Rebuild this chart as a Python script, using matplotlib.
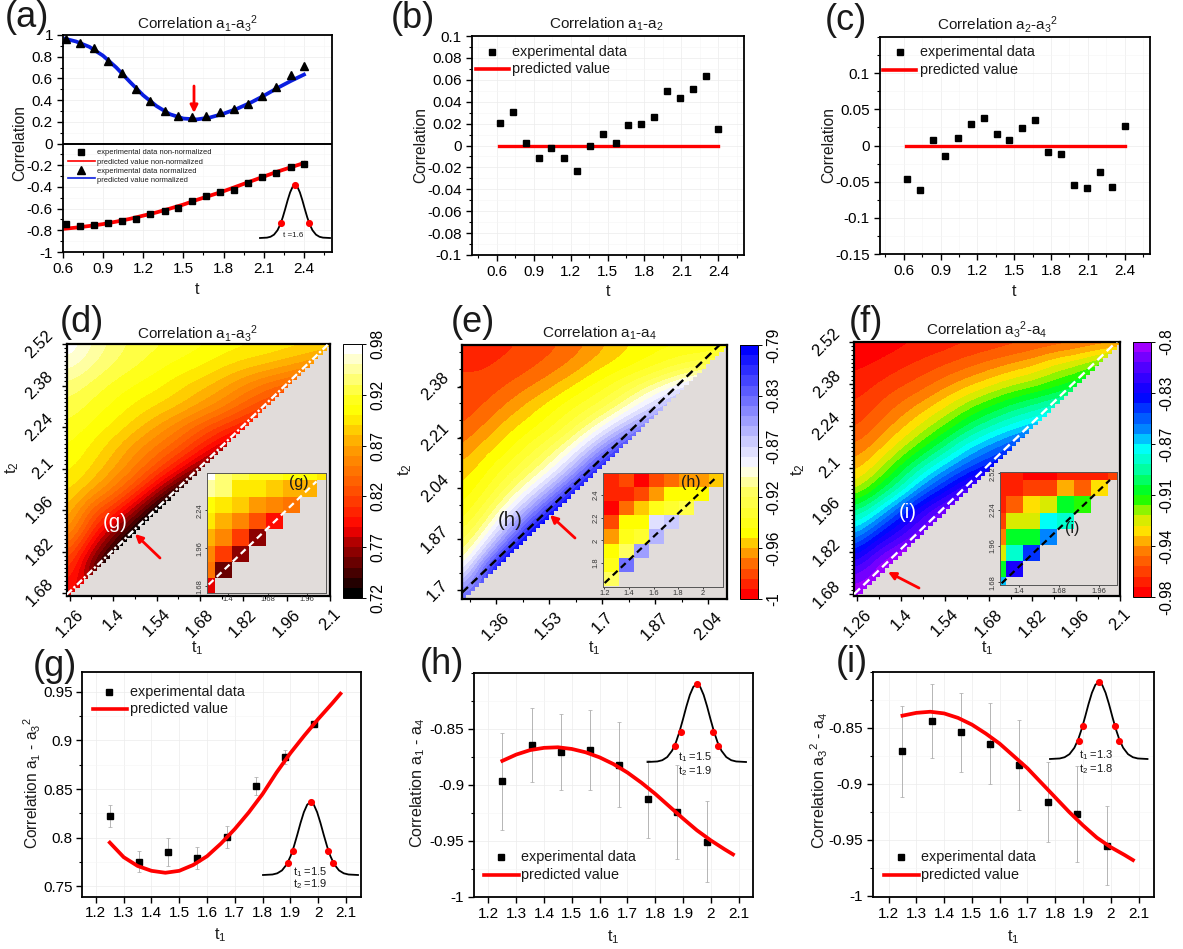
import matplotlib
matplotlib.use('Agg')
import matplotlib.pyplot as plt
from matplotlib.colors import LinearSegmentedColormap
from matplotlib.cm import ScalarMappable
from matplotlib.colors import Normalize
from matplotlib.patches import FancyArrowPatch
from matplotlib.ticker import MultipleLocator
import numpy as np

plt.rcParams['font.family'] = ['Liberation Sans', 'DejaVu Sans']
plt.rcParams['mathtext.default'] = 'regular'
plt.rcParams['axes.unicode_minus'] = False
plt.rcParams['axes.linewidth'] = 1.3

W, H = 1183, 949
RED = '#ff0000'
GRAY = '#e1dcda'

# ---- top row data ----
t_exp = [0.625, 0.73, 0.835, 0.94, 1.045, 1.15, 1.255, 1.36, 1.46, 1.565, 1.67, 1.775, 1.88, 1.985, 2.09, 2.195, 2.3, 2.4]
a_norm = [0.96, 0.93, 0.88, 0.763, 0.646, 0.505, 0.39, 0.30, 0.252, 0.246, 0.252, 0.292, 0.314, 0.363, 0.437, 0.517, 0.634, 0.71]
a_raw = [-0.745, -0.76, -0.754, -0.732, -0.714, -0.692, -0.652, -0.622, -0.597, -0.526, -0.486, -0.443, -0.425, -0.36, -0.31, -0.268, -0.218, -0.188]
a_blue_t = [0.62, 0.7, 0.8, 0.9, 1.0, 1.1, 1.2, 1.3, 1.4, 1.5, 1.6, 1.7, 1.8, 1.9, 2.0, 2.1, 2.2, 2.3, 2.4]
a_blue = [0.965, 0.94, 0.89, 0.81, 0.70, 0.57, 0.445, 0.345, 0.27, 0.23, 0.222, 0.24, 0.275, 0.32, 0.375, 0.44, 0.51, 0.575, 0.635]
a_red_t = [0.62, 0.7, 0.8, 0.9, 1.0, 1.1, 1.2, 1.3, 1.4, 1.5, 1.6, 1.7, 1.8, 1.9, 2.0, 2.1, 2.2, 2.3, 2.4]
a_red = [-0.785, -0.775, -0.76, -0.743, -0.72, -0.695, -0.665, -0.635, -0.60, -0.563, -0.52, -0.48, -0.44, -0.395, -0.35, -0.305, -0.26, -0.22, -0.18]
b_exp = [0.021, 0.0304, 0.0024, -0.011, -0.0024, -0.011, -0.0231, -0.0006, 0.0107, 0.0027, 0.0186, 0.0198, 0.0262, 0.0502, 0.0438, 0.052, 0.0633, 0.0155]
c_exp = [-0.047, -0.0613, 0.0074, -0.0143, 0.0101, 0.0304, 0.0382, 0.0157, 0.0074, 0.024, 0.0355, -0.0083, -0.0124, -0.0544, -0.0594, -0.0364, -0.058, 0.0276]
zero_t = [0.62, 2.4]
zero_val = [0, 0]

# ---- bottom row data ----
t1_exp = [1.25, 1.355, 1.46, 1.565, 1.67, 1.775, 1.88, 1.985]
g_exp = [0.8222, 0.7753, 0.785, 0.779, 0.8006, 0.853, 0.883, 0.917]
g_err = [0.011, 0.011, 0.0145, 0.011, 0.011, 0.009, 0.007, 0.003]
h_exp = [-0.897, -0.8649, -0.8706, -0.869, -0.882, -0.9128, -0.924, -0.9506]
h_err = [0.043, 0.033, 0.034, 0.036, 0.038, 0.035, 0.042, 0.036]
i_exp = [-0.871, -0.8438, -0.854, -0.864, -0.883, -0.916, -0.927, -0.955]
i_err = [0.041, 0.033, 0.035, 0.036, 0.04, 0.036, 0.043, 0.035]
t1_fit = [1.25, 1.3, 1.35, 1.4, 1.45, 1.5, 1.55, 1.6, 1.65, 1.7, 1.75, 1.8, 1.85, 1.9, 1.95, 2.0, 2.05, 2.08]
g_fit = [0.795, 0.780, 0.771, 0.766, 0.764, 0.766, 0.772, 0.781, 0.794, 0.809, 0.826, 0.845, 0.867, 0.887, 0.905, 0.922, 0.938, 0.948]
h_fit = [-0.8786, -0.873, -0.869, -0.867, -0.8665, -0.868, -0.871, -0.8755, -0.8815, -0.889, -0.898, -0.908, -0.919, -0.93, -0.9405, -0.9495, -0.9575, -0.962]
i_fit = [-0.839, -0.8365, -0.8355, -0.837, -0.841, -0.847, -0.855, -0.864, -0.875, -0.886, -0.899, -0.912, -0.925, -0.937, -0.948, -0.9565, -0.9635, -0.968]

# pulse outline (offset from centre, relative height)
pulse_x = [-1.0, -0.8, -0.7, -0.6, -0.5, -0.42, -0.35, -0.28, -0.21, -0.14, -0.07, 0.0,
           0.07, 0.14, 0.21, 0.28, 0.35, 0.42, 0.5, 0.6, 0.7, 0.8, 1.0]
pulse_y = [0.0, 0.007, 0.023, 0.063, 0.146, 0.257, 0.39, 0.547, 0.713, 0.86, 0.963, 1.0,
           0.963, 0.86, 0.713, 0.547, 0.39, 0.257, 0.146, 0.063, 0.023, 0.007, 0.0]
dots_a_x, dots_a_y = [-0.39, 0.0, 0.39], [0.28, 1.0, 0.28]
dots_g_x, dots_g_y = [-0.47, -0.366, 0.0, 0.366, 0.47], [0.17, 0.33, 1.0, 0.33, 0.17]
dots_h_x, dots_h_y = [-0.44, -0.325, 0.0, 0.325, 0.44], [0.21, 0.386, 1.0, 0.386, 0.21]
dots_i_x, dots_i_y = [-0.41, -0.33, 0.0, 0.33, 0.41], [0.24, 0.43, 1.0, 0.43, 0.24]

# ---- heat maps: values read along rows, top row (t2 = 2.52) first, each row stops at the diagonal ----
rows_d = [[0.98, 0.96, 0.945, 0.935, 0.93, 0.925, 0.92, 0.915, 0.91, 0.907, 0.903, 0.90, 0.895],
          [0.965, 0.95, 0.938, 0.93, 0.922, 0.915, 0.91, 0.90, 0.893, 0.888, 0.88, 0.87],
          [0.945, 0.935, 0.925, 0.917, 0.91, 0.90, 0.89, 0.88, 0.865, 0.85, 0.84],
          [0.935, 0.925, 0.915, 0.905, 0.897, 0.888, 0.875, 0.86, 0.84, 0.825],
          [0.925, 0.915, 0.905, 0.892, 0.875, 0.858, 0.838, 0.82, 0.805],
          [0.917, 0.905, 0.89, 0.87, 0.853, 0.835, 0.81, 0.785],
          [0.91, 0.897, 0.878, 0.855, 0.83, 0.80, 0.765],
          [0.90, 0.88, 0.855, 0.825, 0.785, 0.74],
          [0.885, 0.84, 0.815, 0.775, 0.725],
          [0.87, 0.815, 0.77, 0.725],
          [0.835, 0.78, 0.735],
          [0.815, 0.755],
          [0.79]]
rows_e = [[-0.985, -0.985, -0.985, -0.982, -0.978, -0.972, -0.965, -0.955, -0.948, -0.945, -0.943, -0.942, -0.94],
          [-0.985, -0.985, -0.982, -0.978, -0.972, -0.965, -0.955, -0.948, -0.943, -0.935, -0.925, -0.92],
          [-0.98, -0.98, -0.975, -0.968, -0.96, -0.95, -0.94, -0.93, -0.915, -0.90, -0.885],
          [-0.98, -0.975, -0.965, -0.955, -0.945, -0.935, -0.925, -0.91, -0.89, -0.87],
          [-0.975, -0.965, -0.953, -0.945, -0.935, -0.92, -0.90, -0.875, -0.85],
          [-0.965, -0.953, -0.945, -0.93, -0.915, -0.895, -0.865, -0.83],
          [-0.955, -0.945, -0.93, -0.915, -0.895, -0.865, -0.82],
          [-0.948, -0.935, -0.915, -0.89, -0.86, -0.815],
          [-0.94, -0.92, -0.89, -0.855, -0.81],
          [-0.925, -0.90, -0.86, -0.81],
          [-0.91, -0.87, -0.815],
          [-0.885, -0.82],
          [-0.83]]
rows_f = [[-0.98, -0.978, -0.975, -0.972, -0.97, -0.967, -0.965, -0.962, -0.96, -0.958, -0.955, -0.952, -0.95],
          [-0.975, -0.972, -0.968, -0.964, -0.96, -0.955, -0.95, -0.945, -0.94, -0.93, -0.925, -0.915],
          [-0.97, -0.965, -0.96, -0.955, -0.947, -0.94, -0.933, -0.925, -0.92, -0.913, -0.905],
          [-0.965, -0.958, -0.95, -0.942, -0.932, -0.92, -0.91, -0.90, -0.893, -0.885],
          [-0.96, -0.95, -0.94, -0.927, -0.915, -0.90, -0.888, -0.878, -0.87],
          [-0.95, -0.94, -0.925, -0.91, -0.893, -0.875, -0.862, -0.85],
          [-0.94, -0.925, -0.905, -0.885, -0.868, -0.852, -0.84],
          [-0.925, -0.905, -0.885, -0.86, -0.84, -0.82],
          [-0.895, -0.875, -0.85, -0.825, -0.81],
          [-0.87, -0.845, -0.825, -0.81],
          [-0.84, -0.815, -0.805],
          [-0.815, -0.80],
          [-0.80]]

n = np.nan
inset_d = [[0.98, 0.945, 0.93, 0.925, 0.92, 0.915, 0.91, 0.905],
           [0.95, 0.94, 0.905, 0.90, 0.89, 0.885, 0.88, n],
           [0.915, 0.905, 0.89, 0.875, 0.86, 0.85, n, n],
           [0.90, 0.885, 0.865, 0.83, 0.80, n, n, n],
           [0.885, 0.86, 0.82, 0.77, n, n, n, n],
           [0.865, 0.815, 0.765, n, n, n, n, n],
           [0.85, 0.76, n, n, n, n, n, n],
           [0.79, n, n, n, n, n, n, n]]
inset_e = [[-0.985, -0.98, -0.995, -0.98, -0.97, -0.965, -0.965, -0.95],
           [-0.985, -0.985, -0.975, -0.965, -0.945, -0.945, -0.945, n],
           [-0.995, -0.97, -0.95, -0.94, -0.925, -0.92, n, n],
           [-0.98, -0.945, -0.945, -0.875, -0.87, n, n, n],
           [-0.965, -0.935, -0.925, -0.86, n, n, n, n],
           [-0.945, -0.915, -0.85, n, n, n, n, n],
           [-0.94, -0.84, n, n, n, n, n, n],
           [-0.91, n, n, n, n, n, n, n]]
inset_f = [[-0.97, -0.97, -0.98, -0.98, -0.97, -0.97, -0.97, -0.96],
           [-0.97, -0.97, -0.965, -0.96, -0.94, -0.955, -0.935, n],
           [-0.97, -0.955, -0.935, -0.925, -0.905, -0.915, n, n],
           [-0.965, -0.925, -0.925, -0.875, -0.885, n, n, n],
           [-0.95, -0.905, -0.905, -0.86, n, n, n, n],
           [-0.925, -0.88, -0.85, n, n, n, n, n],
           [-0.905, -0.83, n, n, n, n, n, n],
           [-0.865, n, n, n, n, n, n, n]]

cmap_d = LinearSegmentedColormap.from_list('d', [(0, '#000000'), (0.2, '#a80000'), (0.27, '#ff0000'), (0.4, '#ff4800'),
                                                 (0.6, '#ffa000'), (0.74, '#ffff00'), (0.8, '#ffff20'), (0.93, '#ffffb0'), (1, '#ffffff')], N=25)
cmap_e = LinearSegmentedColormap.from_list('e', [(0, '#ff0000'), (0.13, '#ff7000'), (0.2, '#ffc000'), (0.25, '#ffff00'), (0.42, '#ffff60'),
                                                 (0.52, '#ffffff'), (0.6, '#d8d8ff'), (0.75, '#8888ff'), (1, '#0000ff')], N=25)
cmap_f = LinearSegmentedColormap.from_list('f', [(0, '#ff0000'), (0.17, '#ff8000'), (0.25, '#ffe000'), (0.31, '#c8f000'), (0.39, '#00ff00'),
                                                 (0.51, '#00ffb0'), (0.59, '#00ffff'), (0.655, '#0090ff'), (0.8, '#0000ff'), (0.94, '#6000ff'), (1, '#a000ff')], N=25)


def px_axes(x0, y0, x1, y1, **kw):
    return fig.add_axes([x0 / W, 1 - y1 / H, (x1 - x0) / W, (y1 - y0) / H], **kw)


def pad_rows(rows):
    # the part under the diagonal is covered in gray, it only keeps the slope for the smoothing
    out = []
    for row in rows:
        row = list(row)
        step = row[-1] - row[-2] if len(row) > 1 else 0.0
        while len(row) < len(rows):
            row.append(row[-1] + step)
        out.append(row)
    return out


def style_line_ax(ax, xlim, ylim, xt, xl, yt, yl, xminor, yminor, fs=11):
    ax.set_xlim(xlim)
    ax.set_ylim(ylim)
    ax.set_xticks(xt, xl, fontsize=fs)
    ax.set_yticks(yt, yl, fontsize=fs)
    if xminor:
        ax.xaxis.set_minor_locator(MultipleLocator(xminor))
    ax.yaxis.set_minor_locator(MultipleLocator(yminor))
    ax.tick_params(which='major', length=4, width=1.0, pad=3)
    ax.tick_params(which='minor', length=2.2, width=0.8)
    ax.grid(which='major', color='#ececec', lw=0.5)
    ax.grid(which='minor', color='#f5f5f5', lw=0.4)
    ax.set_axisbelow(True)


def draw_pulse(x0, y0, x1, y1, dx, dy):
    p = px_axes(x0, y0, x1, y1)
    p.axis('off')
    p.patch.set_alpha(0)
    p.set_xlim(-1, 1)
    p.set_ylim(0, 1)
    p.plot(pulse_x, pulse_y, color='black', lw=1.3, clip_on=False)
    p.plot(dx, dy, 'o', color=RED, ms=4.1, clip_on=False)


def draw_heat(ax_box, rows, t1_start, xlim, ylim, cmap, vmin, vmax, off,
              xt, xl, yt, yl, xminor, yminor, line_col, line_off, ls):
    ax = px_axes(*ax_box)
    ext = [t1_start - 0.035, t1_start + 0.84 + 0.035, 1.68 - 0.035, 2.52 + 0.035]
    ax.imshow(pad_rows(rows), extent=ext, origin='upper', cmap=cmap, vmin=vmin, vmax=vmax,
              interpolation='bicubic', aspect='auto')
    ax.set_xlim(xlim)
    ax.set_ylim(ylim)
    # gray staircase under the diagonal
    sx = np.arange(xlim[0] - 0.014, xlim[1] + 0.028, 0.014)
    ax.fill_between(sx, ylim[0] - 0.1, sx + off, step='post', color=GRAY, lw=0, zorder=2)
    ax.plot([xlim[0], xlim[1]], [xlim[0] + line_off, xlim[1] + line_off], color=line_col, lw=1.7, ls=ls, zorder=3)
    ax.set_xticks(xt, xl, fontsize=11.8, rotation=45, ha='center')
    ax.set_yticks(yt, yl, fontsize=11.8, rotation=45, va='center')
    ax.xaxis.set_minor_locator(MultipleLocator(xminor))
    ax.yaxis.set_minor_locator(MultipleLocator(yminor))
    ax.tick_params(which='major', length=3.6, width=1.0, pad=4)
    ax.tick_params(which='minor', length=2, width=0.8)
    for s in ax.spines.values():
        s.set_linewidth(1.6)
    return ax


def draw_inset(box, grid, tx, ty, xlim, ylim, cmap, vmin, vmax, xt, xl, yt, yl, start, end, line_col):
    ax = px_axes(*box)
    ax.set_facecolor(GRAY)
    tx = np.array(tx)
    ty = np.array(ty)
    ax.pcolormesh(tx, ty, np.ma.masked_invalid(np.array(grid)[::-1]), cmap=cmap, vmin=vmin, vmax=vmax,
                  shading='nearest', edgecolors='none')
    ax.set_xlim(xlim)
    ax.set_ylim(ylim)
    ax.set_xticks(xt, xl, fontsize=5.4, color='#333333')
    ax.set_yticks(yt, yl, fontsize=5.4, rotation=90, va='center', color='#333333')
    ax.tick_params(length=1.5, width=0.5, pad=1)
    for s in ax.spines.values():
        s.set_linewidth(0.7)
        s.set_color('#555555')
    ax.plot([start[0], end[0]], [start[1], end[1]], transform=ax.transAxes, color=line_col, lw=1.6, ls=(0, (3, 2)))
    return ax


def draw_cbar(box, cmap, vmin, vmax, ticks, labels):
    cax = px_axes(*box)
    cb = fig.colorbar(ScalarMappable(Normalize(vmin, vmax), cmap), cax=cax, ticks=ticks)
    cb.ax.set_yticklabels(labels, rotation=90, va='center', fontsize=11.2)
    cb.ax.tick_params(length=3, width=0.7, pad=3)
    cb.outline.set_linewidth(0.7)


fig = plt.figure(figsize=(W / 100, H / 100), dpi=100)

# ---- (a) ----
ax = px_axes(62.7, 35, 331.7, 252)
style_line_ax(ax, (0.6, 2.607), (-1, 1), [0.6, 0.9, 1.2, 1.5, 1.8, 2.1, 2.4], ['0.6', '0.9', '1.2', '1.5', '1.8', '2.1', '2.4'],
              [-1, -0.8, -0.6, -0.4, -0.2, 0, 0.2, 0.4, 0.6, 0.8, 1], ['-1', '-0.8', '-0.6', '-0.4', '-0.2', '0', '0.2', '0.4', '0.6', '0.8', '1'], 0.15, 0.1)
ax.axhline(0, color='black', lw=1.4)
ax.plot(a_blue_t, a_blue, color='#0a1ee0', lw=2.7)
ax.plot(a_red_t, a_red, color=RED, lw=2.7)
ax.plot(t_exp, a_norm, '^', color='black', ms=5.2, clip_on=False)
ax.plot(t_exp, a_raw, 's', color='black', ms=4.6, clip_on=False)
draw_pulse(260, 185, 330, 238, dots_a_x, dots_a_y)

# ---- (b) ----
ax = px_axes(471.7, 36, 743.7, 255)
style_line_ax(ax, (0.397, 2.606), (-0.1, 0.1), [0.6, 0.9, 1.2, 1.5, 1.8, 2.1, 2.4], ['0.6', '0.9', '1.2', '1.5', '1.8', '2.1', '2.4'],
              [-0.1, -0.08, -0.06, -0.04, -0.02, 0, 0.02, 0.04, 0.06, 0.08, 0.1],
              ['-0.1', '-0.08', '-0.06', '-0.04', '-0.02', '0', '0.02', '0.04', '0.06', '0.08', '0.1'], 0.15, 0.01)
ax.plot(zero_t, zero_val, color=RED, lw=2.4)
ax.plot(t_exp, b_exp, 's', color='black', ms=4.5)

# ---- (c) ----
ax = px_axes(879.7, 37, 1149.7, 254)
style_line_ax(ax, (0.404, 2.604), (-0.15, 0.15), [0.6, 0.9, 1.2, 1.5, 1.8, 2.1, 2.4], ['0.6', '0.9', '1.2', '1.5', '1.8', '2.1', '2.4'],
              [-0.15, -0.1, -0.05, 0, 0.05, 0.1], ['-0.15', '-0.1', '-0.05', '0', '0.05', '0.1'], 0.15, 0.025)
ax.plot(zero_t, zero_val, color=RED, lw=2.4)
ax.plot(t_exp, c_exp, 's', color='black', ms=4.5)

# ---- (d)(e)(f) ----
tk_d = [1.26, 1.4, 1.54, 1.68, 1.82, 1.96, 2.1]
tl_d = ['1.26', '1.4', '1.54', '1.68', '1.82', '1.96', '2.1']
tk_y = [1.68, 1.82, 1.96, 2.1, 2.24, 2.38, 2.52]
tl_y = ['1.68', '1.82', '1.96', '2.1', '2.24', '2.38', '2.52']

draw_heat((66.7, 344, 330, 596), rows_d, 1.26, (1.25, 2.1), (1.67, 2.52), cmap_d, 0.72, 0.98, 0.42,
          tk_d, tl_d, tk_y, tl_y, 0.07, 0.014, 'white', 0.425, (0, (3, 1, 1, 1)))
draw_heat((462, 345, 727, 599), rows_e, 1.25, (1.25, 2.101), (1.671, 2.519), cmap_e, -1, -0.79, 0.42,
          [1.36, 1.53, 1.7, 1.87, 2.04], ['1.36', '1.53', '1.7', '1.87', '2.04'],
          [1.7, 1.87, 2.04, 2.21, 2.38], ['1.7', '1.87', '2.04', '2.21', '2.38'], 0.085, 0.0567, 'black', 0.442, (0, (3.5, 2)))
draw_heat((854, 342, 1120, 596), rows_f, 1.26, (1.249, 2.1), (1.675, 2.52), cmap_f, -0.98, -0.8, 0.42,
          tk_d, tl_d, tk_y, tl_y, 0.07, 0.014, 'white', 0.432, (0, (3.5, 2)))

draw_cbar((343, 344, 362, 598), cmap_d, 0.72, 0.98, [0.72, 0.772, 0.824, 0.876, 0.928, 0.98], ['0.72', '0.77', '0.82', '0.87', '0.92', '0.98'])
draw_cbar((740, 345, 758, 599), cmap_e, -1, -0.79, [-1, -0.958, -0.916, -0.874, -0.832, -0.79], ['-1', '-0.96', '-0.92', '-0.87', '-0.83', '-0.79'])
draw_cbar((1133, 342, 1151, 597), cmap_f, -0.98, -0.8, [-0.98, -0.944, -0.908, -0.872, -0.836, -0.8], ['-0.98', '-0.94', '-0.91', '-0.87', '-0.83', '-0.8'])

# insets: half cells at the borders come from the axis limits
cells_x = [1.25, 1.37, 1.49, 1.61, 1.73, 1.85, 1.97, 2.09]
cells_y = [1.68, 1.80, 1.92, 2.04, 2.16, 2.28, 2.40, 2.52]
draw_inset((207, 473, 326, 593), inset_d, cells_x, cells_y, (1.25, 2.094), (1.63, 2.515), cmap_d, 0.72, 0.98,
           [1.4, 1.68, 1.96], ['1.4', '1.68', '1.96'], [1.68, 1.96, 2.24], ['1.68', '1.96', '2.24'], (0.014, 0.07), (0.92, 0.93), 'white')
draw_inset((603, 473, 723, 587), inset_e, [1.26 + 0.121 * k for k in range(8)], [1.66 + 0.125 * k for k in range(8)],
           (1.19, 2.164), (1.59, 2.594), cmap_e, -1, -0.79,
           [1.2, 1.4, 1.6, 1.8, 2], ['1.2', '1.4', '1.6', '1.8', '2'], [1.8, 2, 2.2, 2.4], ['1.8', '2', '2.2', '2.4'], (0.014, 0.035), (0.936, 0.954), 'black')
draw_inset((1000, 472, 1117, 585), inset_f, cells_x, [1.66 + 0.124 * k for k in range(8)], (1.266, 2.09), (1.66, 2.53), cmap_f, -0.98, -0.8,
           [1.4, 1.68, 1.96], ['1.4', '1.68', '1.96'], [1.68, 1.96, 2.24, 2.52], ['1.68', '1.96', '2.24', '2.52'], (0.014, 0.015), (0.94, 0.93), 'black')

# ---- (g)(h)(i) ----
tk_bottom = [1.2, 1.3, 1.4, 1.5, 1.6, 1.7, 1.8, 1.9, 2.0, 2.1]
tl_bottom = ['1.2', '1.3', '1.4', '1.5', '1.6', '1.7', '1.8', '1.9', '2', '2.1']

ax = px_axes(82.3, 672.3, 361, 896.7)
style_line_ax(ax, (1.151, 2.154), (0.7394, 0.97), tk_bottom, tl_bottom, [0.75, 0.8, 0.85, 0.9, 0.95], ['0.75', '0.8', '0.85', '0.9', '0.95'], None, 0.025)
ax.errorbar(t1_exp, g_exp, yerr=g_err, fmt='none', ecolor='#aaaaaa', elinewidth=0.6, capsize=1.5, capthick=0.5)
ax.plot(t1_exp, g_exp, 's', color='black', ms=4.6)
ax.plot(t1_fit, g_fit, color=RED, lw=2.7)
draw_pulse(263, 802, 358, 875, dots_g_x, dots_g_y)

ax = px_axes(474, 672.7, 753, 897)
style_line_ax(ax, (1.148, 2.152), (-1, -0.8), tk_bottom, tl_bottom, [-1, -0.95, -0.9, -0.85], ['-1', '-0.95', '-0.9', '-0.85'], None, 0.025)
ax.errorbar(t1_exp, h_exp, yerr=h_err, fmt='none', ecolor='#aaaaaa', elinewidth=0.6, capsize=1.5, capthick=0.5)
ax.plot(t1_exp, h_exp, 's', color='black', ms=4.6)
ax.plot(t1_fit, h_fit, color=RED, lw=2.7)
draw_pulse(647.5, 684, 746, 762, dots_h_x, dots_h_y)

ax = px_axes(872.5, 672, 1153.5, 897)
style_line_ax(ax, (1.142, 2.154), (-1.001, -0.8), tk_bottom, tl_bottom, [-1, -0.95, -0.9, -0.85], ['-1', '-0.95', '-0.9', '-0.85'], None, 0.025)
ax.errorbar(t1_exp, i_exp, yerr=i_err, fmt='none', ecolor='#aaaaaa', elinewidth=0.6, capsize=1.5, capthick=0.5)
ax.plot(t1_exp, i_exp, 's', color='black', ms=4.6)
ax.plot(t1_fit, i_fit, color=RED, lw=2.7)
draw_pulse(1050, 682, 1147.5, 759, dots_i_x, dots_i_y)

# ---- overlay in picture pixels: letters, titles, axis names, hand-made legends, arrows ----
ov = fig.add_axes([0, 0, 1, 1], zorder=20)
ov.set_xlim(0, W)
ov.set_ylim(H, 0)
ov.axis('off')
ov.patch.set_alpha(0)


def txt(x, y, s, fs=10.4, **kw):
    kw.setdefault('ha', 'center')
    kw.setdefault('va', 'center')
    kw.setdefault('color', '#1a1a1a')
    ov.text(x, y, s, fontsize=fs, **kw)


def red_arrow(x0, y0, x1, y1):
    ov.add_patch(FancyArrowPatch((x0, y0), (x1, y1), arrowstyle='-|>', mutation_scale=11, color=RED, lw=2.0, shrinkA=0, shrinkB=0))


for x, y, s in [(27, 17, '(a)'), (413, 18, '(b)'), (846, 20, '(c)'), (82, 323, '(d)'), (473, 322, '(e)'), (866, 322, '(f)'),
                (55, 667, '(g)'), (442, 665, '(h)'), (852, 663, '(i)')]:
    txt(x, y, s, fs=26)

for x, y, s in [(198, 23, 'Correlation $a_1$-$a_3$$^2$'), (606, 24, 'Correlation $a_1$-$a_2$'), (998, 24, 'Correlation $a_2$-$a_3$$^2$'),
                (198, 333, 'Correlation $a_1$-$a_3$$^2$'), (600, 333, 'Correlation $a_1$-$a_4$'), (987, 329, 'Correlation $a_3$$^2$-$a_4$')]:
    txt(x, y, s, fs=11)

for x, y, s in [(197, 289, 't'), (608, 292, 't'), (1014, 292, 't'), (197, 648, '$t_1$'), (594, 648, '$t_1$'), (987, 648, '$t_1$'),
                (220, 935, '$t_1$'), (613, 937, '$t_1$'), (1013, 937, '$t_1$')]:
    txt(x, y, s, fs=11.5)

for x, y, s, fs in [(20, 143, 'Correlation', 11.2), (421, 145, 'Correlation', 11.2), (829, 145, 'Correlation', 11.2),
                    (12, 468, '$t_2$', 12), (405, 470, '$t_2$', 12), (798, 470, '$t_2$', 12),
                    (32, 783, 'Correlation $a_1$ - $a_3$$^2$', 11.2), (418, 783, 'Correlation $a_1$ - $a_4$', 11.6), (819, 780, 'Correlation $a_3$$^2$ - $a_4$', 11.6)]:
    txt(x, y, s, fs=fs, rotation=90)

# legend of (a)
ov.plot([81], [152], 's', color='black', ms=4.6)
ov.plot([68, 95], [161, 161], color=RED, lw=1.2)
ov.plot([81], [170], '^', color='black', ms=5.2)
ov.plot([68, 95], [178, 178], color='#0a1ee0', lw=1.2)
for y, s in [(152, 'experimental data non-normalized'), (162, 'predicted value non-normalized'),
             (171, 'experimental data normalized'), (180, 'predicted value normalized')]:
    txt(97, y, s, fs=5.4, ha='left')
txt(293, 235, 't =1.6', fs=5.8)

# legends of (b)(c)(g)(h)(i)
for mx, my, tx, y2, lx0, lx1 in [(492, 52, 512, 69, 476, 509), (900, 52, 920, 70, 883, 916), (109, 692, 130, 709, 93, 127),
                                 (501, 857, 521.5, 875, 484, 519), (901, 857, 921.5, 875, 884, 919)]:
    ov.plot([mx], [my], 's', color='black', ms=4.6)
    ov.plot([lx0, lx1], [y2, y2], color=RED, lw=2.6)
    txt(tx, my, 'experimental data', fs=10.4, ha='left')
    txt(tx, y2, 'predicted value', fs=10.4, ha='left')

for x, y1, y2, s1, s2 in [(293, 872, 884, '$t_1$ =1.5', '$t_2$ =1.9'), (678, 757, 771, '$t_1$ =1.5', '$t_2$ =1.9'), (1079, 755, 769, '$t_1$ =1.3', '$t_2$ =1.8')]:
    txt(x, y1, s1, fs=8, ha='left')
    txt(x, y2, s2, fs=8, ha='left')

# tags on the heat maps
txt(115, 523, '(g)', fs=14.7, color='white')
txt(299, 482, '(g)', fs=11.5)
txt(510, 520, '(h)', fs=14.7)
txt(691, 482, '(h)', fs=11.5)
txt(908, 513, '(i)', fs=14.7, color='white')
txt(1072, 528, '(i)', fs=11.5)

red_arrow(194, 86, 194, 113)
red_arrow(160, 558, 135, 534)
red_arrow(575, 538, 550, 515)
red_arrow(919, 588, 888, 572)

fig.savefig('out.png', dpi=100)
